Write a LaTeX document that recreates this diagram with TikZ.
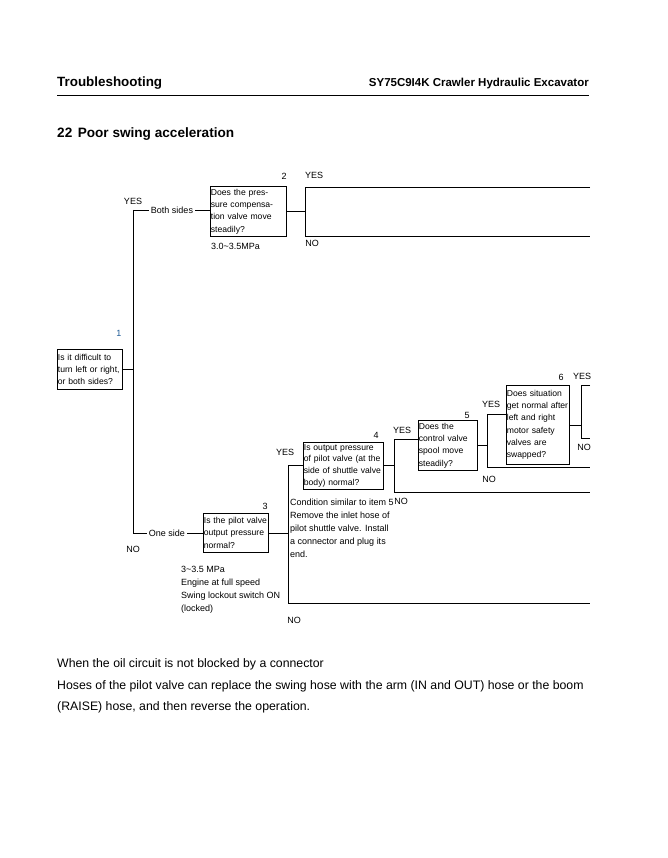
\documentclass[tikz,border=0pt]{standalone}
\usepackage{fontspec}
\setmainfont{Liberation Sans}
\definecolor{numblue}{RGB}{30,90,150}
\begin{document}
\begin{tikzpicture}[x=1pt,y=-1pt,
  qbox/.style={draw, line width=0.8pt, inner sep=0.5pt, align=left, anchor=north west,
     font=\fontsize{8.6}{12.3}\selectfont},
  lbl/.style={inner sep=0pt, font=\fontsize{9}{10}\selectfont},
  note/.style={inner sep=0pt, anchor=north west, align=left, font=\fontsize{9}{13}\selectfont},
  conn/.style={line width=0.8pt},
  mid/.style={inner sep=1.5pt, fill=white, font=\fontsize{9}{10}\selectfont},
  para/.style={anchor=base west, inner sep=0pt, font=\fontsize{12.3}{14}\selectfont}]
\useasboundingbox (0,0) rectangle (667,858);

% header
\node[anchor=base west, inner sep=0pt, font=\fontsize{13.4}{15}\selectfont\bfseries] (hl) at (57,87) {Troubleshooting};
\node[anchor=base east, inner sep=0pt, font=\fontsize{11.5}{13}\selectfont\bfseries] (hr) at (589,87) {SY75C9I4K Crawler Hydraulic Excavator};
\coordinate (rl) at (57,96);
\coordinate (rr) at (589,96);
\draw[line width=1pt] (rl) -- (rr);
\node[anchor=base west, inner sep=0pt, font=\fontsize{13.6}{15}\selectfont\bfseries] (title) at (57,138) {22\hspace{0.4em}Poor swing acceleration};

% boxes
\node[qbox, text width=64pt, minimum height=40pt] (b1) at (57,349) {Is it difficult to\\turn left or right,\\or both sides?};
\node[qbox, text width=75pt, minimum height=50pt] (b2) at (210,186) {Does the pres-\\sure compensa-\\tion valve move\\steadily?};
\node[qbox, text width=64pt, minimum height=39pt] (b3) at (203,513) {Is the pilot valve\\output pressure\\normal?};
\node[qbox, text width=79pt, minimum height=46.5pt, font=\fontsize{8.6}{11.8}\selectfont] (b4) at (303,442) {Is output pressure\\of pilot valve (at the\\side of shuttle valve\\body) normal?};
\node[qbox, text width=58pt, minimum height=50pt] (b5) at (418,420) {Does the\\control valve\\spool move\\steadily?};
\node[qbox, text width=62pt, minimum height=79pt] (b6) at (506,385) {Does situation\\get normal after\\left and right\\motor safety\\valves are\\swapped?};

% numbers
\node[lbl, text=numblue] (n1) at (119,333) {1};
\node[lbl] (n2) at (284,176) {2};
\node[lbl] (n3) at (265,506) {3};
\node[lbl] (n4) at (376,435) {4};
\node[lbl] (n5) at (467,415) {5};
\node[lbl] (n6) at (561,377) {6};

% notes
\node[note] (t2) at (211,243) {3.0\textasciitilde3.5MPa};
\node[note] (t3) at (181,566) {3\textasciitilde3.5 MPa\\Engine at full speed\\Swing lockout switch ON\\(locked)};
\node[note] (t4) at (290,499) {Condition similar to item 5\\Remove the inlet hose of\\pilot shuttle valve. Install\\a connector and plug its\\end.};

% node 1 branches
\coordinate (v1t) at (133,210);
\coordinate (v1b) at (133,533);
\draw[conn] (b1.east) -- (b1.east -| v1t);
\draw[conn] (v1t) -- (v1b);
\draw[conn] (v1t) -- (b2.west |- v1t);
\draw[conn] (v1b) -- (b3.west |- v1b);
\node[mid] (bs) at (172,210) {Both sides};
\node[mid] (os) at (167,533) {One side};
\node[lbl] (y1) at (133,201) {YES};
\node[lbl] (no1) at (133,549) {NO};

% node 2 branches
\coordinate (v2t) at (305,187);
\coordinate (v2b) at (305,236);
\coordinate (e2t) at (590,187);
\coordinate (e2b) at (590,236);
\draw[conn] (b2.east) -- (b2.east -| v2t);
\draw[conn] (e2t) -- (v2t) -- (v2b) -- (e2b);
\node[lbl] (y2) at (314,175) {YES};
\node[lbl] (no2) at (312,243) {NO};

% node 3 branches
\coordinate (v3t) at (288,465);
\coordinate (v3b) at (288,603);
\coordinate (e3b) at (590,603);
\draw[conn] (b3.east) -- (b3.east -| v3t);
\draw[conn] (b4.west |- v3t) -- (v3t) -- (v3b) -- (e3b);
\node[lbl] (y3) at (285,452) {YES};
\node[lbl] (no3) at (294,620) {NO};

% node 4 branches
\coordinate (v4t) at (394,439);
\coordinate (v4b) at (394,492);
\coordinate (e4b) at (590,492);
\draw[conn] (b4.east) -- (b4.east -| v4t);
\draw[conn] (b5.west |- v4t) -- (v4t) -- (v4b) -- (e4b);
\node[lbl] (y4) at (402,430) {YES};
\node[lbl] (no4) at (401,501) {NO};

% node 5 branches
\coordinate (v5t) at (487,414);
\coordinate (v5b) at (487,467);
\coordinate (e5b) at (590,467);
\draw[conn] (b5.east) -- (b5.east -| v5t);
\draw[conn] (b6.west |- v5t) -- (v5t) -- (v5b) -- (e5b);
\node[lbl] (y5) at (491,404) {YES};
\node[lbl] (no5) at (489,479) {NO};

% node 6 branches
\coordinate (v6t) at (581,385);
\coordinate (v6b) at (581,438);
\coordinate (e6t) at (590,385);
\coordinate (e6b) at (590,438);
\draw[conn] (b6.east) -- (b6.east -| v6t);
\draw[conn] (e6t) -- (v6t) -- (v6b) -- (e6b);
\node[lbl] (y6) at (582,376) {YES};
\node[lbl] (no6) at (584,447) {NO};

% bottom text
\node[para] (bt1) at (57,667) {When the oil circuit is not blocked by a connector};
\node[para] (bt2) at (57,689) {Hoses of the pilot valve can replace the swing hose with the arm (IN and OUT) hose or the boom};
\node[para] (bt3) at (57,710) {(RAISE) hose, and then reverse the operation.};
\end{tikzpicture}
\end{document}
